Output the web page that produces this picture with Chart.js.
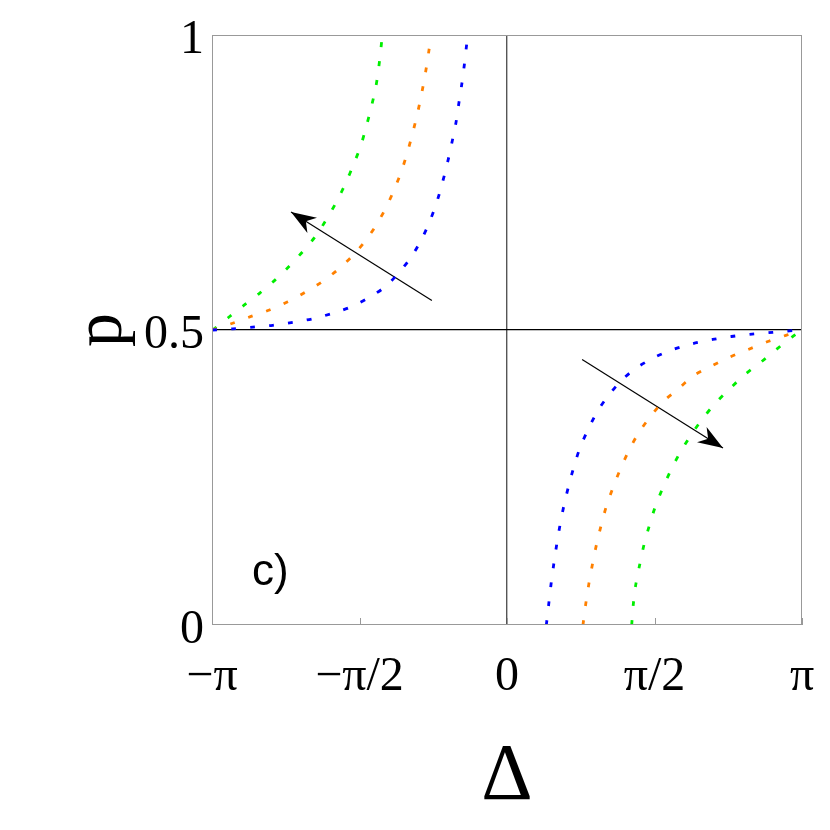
<!DOCTYPE html>
<html lang="en">
<head>
    <meta charset="UTF-8">
    <title>p vs Delta</title>
    <script src="https://cdn.jsdelivr.net/npm/chart.js"></script>
    <style>
        html, body { margin: 0; padding: 0; background: #fff; }
        .chart-container { width: 830px; height: 830px; }
    </style>
</head>
<body>
    <div class="chart-container">
        <canvas id="pChart" width="830" height="830"></canvas>
    </div>

    <script>
        // tick positions and labels
        const xTickValues = [-Math.PI, -Math.PI / 2, 0, Math.PI / 2, Math.PI];
        const xTickLabels = ['\u2212\u03c0', '\u2212\u03c0/2', '0', '\u03c0/2', '\u03c0'];
        const yTickValues = [0, 0.5, 1];
        const yTickLabels = ['0', '0.5', '1'];

        // curves, [Delta, p]
        const blueLeft = [[-3.14,0.5],[-2.92,0.502],[-2.708,0.505],[-2.495,0.508],[-2.282,0.513],[-2.07,0.519],
            [-1.864,0.528],[-1.665,0.539],[-1.47,0.555],[-1.30,0.573],[-1.147,0.598],[-1.019,0.624],[-0.909,0.654],
            [-0.823,0.684],[-0.749,0.716],[-0.689,0.749],[-0.636,0.782],[-0.589,0.816],[-0.546,0.849],[-0.514,0.883],
            [-0.482,0.916],[-0.454,0.950],[-0.429,0.985],[-0.418,1.0]];
        const orangeLeft = [[-3.14,0.5],[-2.93,0.511],[-2.726,0.523],[-2.53,0.534],[-2.335,0.548],[-2.148,0.564],
            [-1.967,0.582],[-1.796,0.603],[-1.643,0.626],[-1.505,0.652],[-1.384,0.680],[-1.281,0.710],[-1.193,0.741],
            [-1.118,0.772],[-1.054,0.805],[-0.998,0.838],[-0.948,0.871],[-0.905,0.904],[-0.866,0.938],[-0.834,0.971],
            [-0.808,1.0]];
        const greenLeft = [[-3.134,0.5],[-2.96,0.522],[-2.80,0.542],[-2.63,0.563],[-2.468,0.585],[-2.314,0.609],
            [-2.169,0.634],[-2.034,0.660],[-1.917,0.689],[-1.810,0.719],[-1.718,0.749],[-1.633,0.781],[-1.558,0.812],
            [-1.498,0.845],[-1.445,0.878],[-1.398,0.911],[-1.366,0.945],[-1.342,0.978],[-1.328,1.0]];
        const blueRight = [[0.419,0.0],[0.444,0.035],[0.469,0.069],[0.497,0.102],[0.529,0.136],[0.564,0.169],
            [0.607,0.203],[0.657,0.236],[0.714,0.269],[0.781,0.302],[0.866,0.332],[0.966,0.363],[1.086,0.390],
            [1.228,0.416],[1.39,0.437],[1.576,0.454],[1.77,0.467],[1.98,0.477],[2.19,0.484],[2.39,0.489],
            [2.61,0.493],[2.83,0.496],[3.04,0.499],[3.14,0.5]];
        const orangeRight = [[0.809,0.0],[0.838,0.035],[0.870,0.068],[0.909,0.102],[0.951,0.135],[1.001,0.168],
            [1.058,0.201],[1.129,0.233],[1.207,0.264],[1.296,0.295],[1.40,0.325],[1.526,0.353],[1.665,0.379],
            [1.83,0.401],[1.98,0.422],[2.18,0.439],[2.37,0.454],[2.57,0.467],[2.77,0.480],[2.97,0.491],[3.14,0.5]];
        const greenRight = [[1.328,0.0],[1.345,0.035],[1.371,0.068],[1.413,0.102],[1.459,0.136],[1.515,0.168],
            [1.58,0.201],[1.658,0.232],[1.747,0.263],[1.846,0.293],[1.96,0.322],[2.08,0.349],[2.22,0.376],
            [2.37,0.400],[2.53,0.424],[2.70,0.445],[2.86,0.466],[3.035,0.488],[3.14,0.5]];

        // arrows [tail, tip] and panel tag
        const arrowLeft = [[-0.80,0.55],[-2.30,0.70]];
        const arrowRight = [[0.80,0.45],[2.30,0.30]];
        const panelTag = { text: 'c)', x: -2.716, y: 0.068 };

        const toPts = arr => arr.map(d => ({ x: d[0], y: d[1] }));

        function curve(data, color) {
            return {
                data: toPts(data),
                showLine: true,
                borderColor: color,
                borderWidth: 2.8,
                borderDash: [5, 14],
                borderCapStyle: 'butt',
                pointRadius: 0,
                tension: 0.3,
                fill: false
            };
        }

        function arrow(data) {
            return {
                data: toPts(data),
                showLine: true,
                borderColor: '#000',
                borderWidth: 1.2,
                pointRadius: 0,
                isArrow: true
            };
        }

        const overlay = {
            id: 'overlay',
            afterDatasetsDraw(chart) {
                const { ctx, chartArea: a, scales: { x, y } } = chart;
                ctx.save();
                // frame
                ctx.strokeStyle = '#999';
                ctx.lineWidth = 1;
                ctx.strokeRect(a.left + 0.5, a.top + 0.5, a.right - a.left - 1, a.bottom - a.top - 1);
                // inner ticks
                xTickValues.forEach(v => {
                    const px = Math.round(x.getPixelForValue(v)) + 0.5;
                    ctx.beginPath();
                    ctx.moveTo(px, a.bottom);
                    ctx.lineTo(px, a.bottom - 7);
                    ctx.stroke();
                });
                // arrow heads
                chart.data.datasets.forEach(ds => {
                    if (!ds.isArrow) return;
                    const t0 = ds.data[0], t1 = ds.data[1];
                    const x0 = x.getPixelForValue(t0.x), y0 = y.getPixelForValue(t0.y);
                    const x1 = x.getPixelForValue(t1.x), y1 = y.getPixelForValue(t1.y);
                    const ang = Math.atan2(y1 - y0, x1 - x0);
                    const len = 25, half = 9;
                    const cos = Math.cos(ang), sin = Math.sin(ang);
                    ctx.fillStyle = '#000';
                    ctx.beginPath();
                    ctx.moveTo(x1, y1);
                    ctx.lineTo(x1 - len * cos - half * sin, y1 - len * sin + half * cos);
                    ctx.lineTo(x1 - 0.7 * len * cos, y1 - 0.7 * len * sin);
                    ctx.lineTo(x1 - len * cos + half * sin, y1 - len * sin - half * cos);
                    ctx.closePath();
                    ctx.fill();
                });
                // panel tag
                ctx.fillStyle = '#000';
                ctx.font = '44px "Liberation Sans", Arial, sans-serif';
                ctx.textAlign = 'left';
                ctx.textBaseline = 'alphabetic';
                ctx.fillText(panelTag.text, x.getPixelForValue(panelTag.x), y.getPixelForValue(panelTag.y));
                ctx.restore();
            }
        };

        const serif = '"Liberation Serif", "DejaVu Serif", serif';

        new Chart(document.getElementById('pChart'), {
            type: 'scatter',
            data: {
                datasets: [
                    curve(blueLeft, '#0000ff'),
                    curve(orangeLeft, '#ff8000'),
                    curve(greenLeft, '#00ee00'),
                    curve(blueRight, '#0000ff'),
                    curve(orangeRight, '#ff8000'),
                    curve(greenRight, '#00ee00'),
                    arrow(arrowLeft),
                    arrow(arrowRight)
                ]
            },
            options: {
                responsive: false,
                animation: false,
                layout: { padding: { top: 35, right: 28, left: 0, bottom: 0 } },
                plugins: { legend: { display: false }, tooltip: { enabled: false } },
                scales: {
                    x: {
                        type: 'linear',
                        min: -Math.PI,
                        max: Math.PI,
                        afterBuildTicks: s => { s.ticks = xTickValues.map(v => ({ value: v })); },
                        afterFit: s => { s.height = 205; s.paddingLeft = 0; s.paddingRight = 0; },
                        ticks: {
                            autoSkip: false,
                            maxRotation: 0,
                            padding: 24,
                            color: '#000',
                            font: { family: serif, size: 48 },
                            callback: (v, i) => xTickLabels[i]
                        },
                        grid: {
                            drawTicks: false,
                            lineWidth: 1.4,
                            color: c => (c.tick && c.tick.value === 0) ? '#555' : 'rgba(0,0,0,0)'
                        },
                        border: { display: false },
                        title: {
                            display: true,
                            text: '\u0394',
                            color: '#000',
                            font: { family: serif, size: 80, lineHeight: 1 },
                            padding: { top: 0, bottom: 12 }
                        }
                    },
                    y: {
                        type: 'linear',
                        min: 0,
                        max: 1,
                        afterBuildTicks: s => { s.ticks = yTickValues.map(v => ({ value: v })); },
                        afterFit: s => { s.width = 212; s.paddingTop = 0; s.paddingBottom = 0; },
                        ticks: {
                            autoSkip: false,
                            padding: 8,
                            labelOffset: 5,
                            color: '#000',
                            font: { family: serif, size: 48 },
                            callback: (v, i) => yTickLabels[i]
                        },
                        grid: {
                            drawTicks: false,
                            lineWidth: 1.2,
                            color: c => (c.tick && c.tick.value === 0.5) ? '#000' : 'rgba(0,0,0,0)'
                        },
                        border: { display: false },
                        title: {
                            display: true,
                            text: 'p',
                            color: '#000',
                            font: { family: serif, size: 68, lineHeight: 1 },
                            padding: { top: 69, bottom: 0 }
                        }
                    }
                }
            },
            plugins: [overlay]
        });
    </script>
</body>
</html>
